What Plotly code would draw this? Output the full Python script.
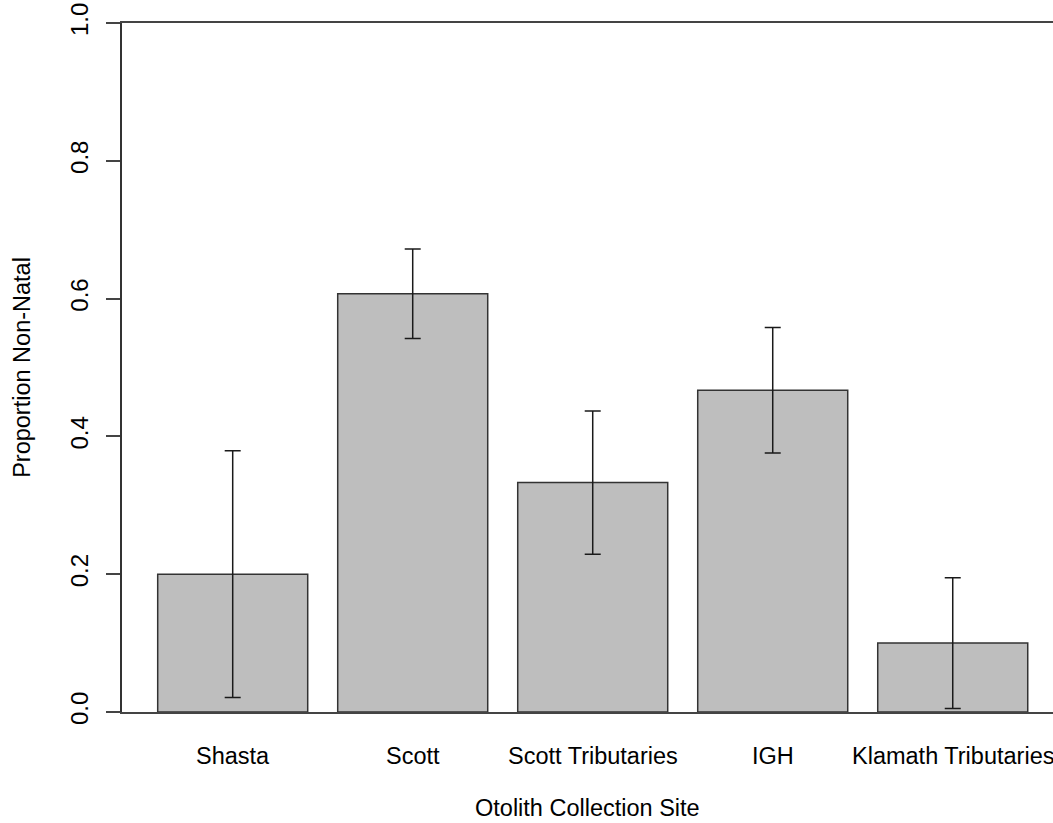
import plotly.graph_objects as go

# Proportion of non-natal otoliths by collection site, with standard errors
sites = ["Shasta", "Scott", "Scott Tributaries", "IGH", "Klamath Tributaries"]
proportion = [0.200, 0.607, 0.333, 0.467, 0.100]
std_err = [0.179, 0.065, 0.104, 0.091, 0.095]
y_ticks = [0.0, 0.2, 0.4, 0.6, 0.8, 1.0]
y_tick_labels = ["0.0", "0.2", "0.4", "0.6", "0.8", "1.0"]

positions = list(range(len(sites)))
font = "Liberation Sans, Arial, sans-serif"
label_size = 23.5
x_range = [-0.615, 4.557]

fig = go.Figure(
    go.Bar(
        x=positions,
        y=proportion,
        width=150 / 180,
        marker=dict(color="#bebebe", line=dict(color="#333333", width=1.5)),
        error_y=dict(
            type="data",
            array=std_err,
            visible=True,
            color="#1a1a1a",
            thickness=1.5,
            width=8,
        ),
        showlegend=False,
    )
)

# Category names under the bars (annotations so the last one may run off the edge)
annotations = [
    dict(
        x=pos, y=0, xref="x", yref="y",
        text=name, showarrow=False,
        xanchor="center", yanchor="middle", yshift=-44,
        font=dict(family=font, size=label_size, color="black"),
    )
    for pos, name in zip(positions, sites)
]
annotations.append(
    dict(
        x=0.5, y=0, xref="paper", yref="y",
        text="Otolith Collection Site", showarrow=False,
        xanchor="center", yanchor="middle", yshift=-96,
        font=dict(family=font, size=label_size, color="black"),
    )
)

fig.update_layout(
    width=1053,
    height=823,
    margin=dict(l=122, r=0, t=23, b=111),
    paper_bgcolor="white",
    plot_bgcolor="white",
    font=dict(family=font, size=24, color="black"),
    annotations=annotations,
    xaxis=dict(
        range=x_range,
        tickvals=positions,
        showticklabels=False,
        showline=True,
        mirror=True,
        linecolor="#444444",
        linewidth=1.5,
        ticks="",
        showgrid=False,
        zeroline=False,
        automargin=False,
    ),
    yaxis=dict(
        range=[0, 1],
        tickvals=y_ticks,
        ticktext=y_tick_labels,
        tickangle=-90,
        showline=True,
        linecolor="#333333",
        linewidth=1.5,
        ticks="outside",
        ticklen=14,
        tickwidth=1.5,
        tickcolor="#444444",
        showgrid=False,
        zeroline=False,
        automargin=False,
        ticklabelstandoff=9,
        tickfont=dict(size=24),
        title=dict(text="Proportion Non-Natal", font=dict(size=label_size), standoff=28),
    ),
)

fig.write_html("out.html")
